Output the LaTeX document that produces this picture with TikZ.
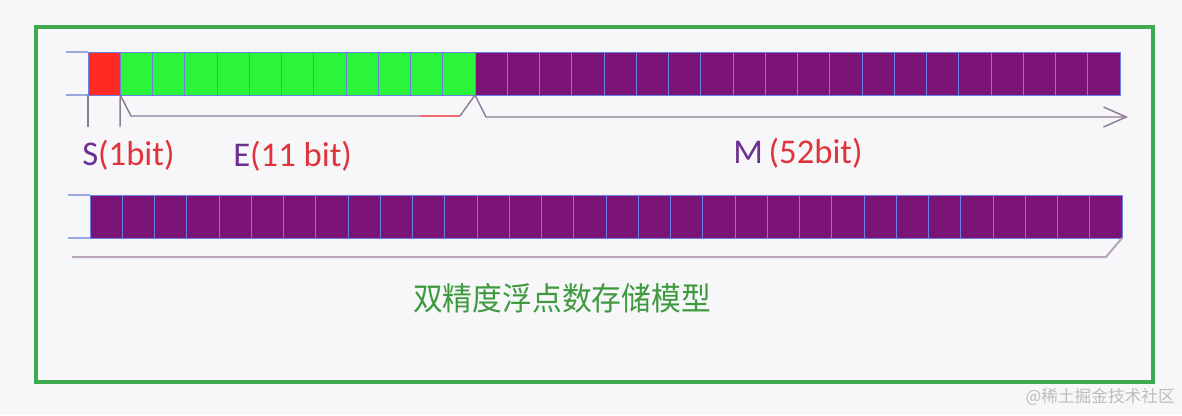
\documentclass[tikz,border=0pt]{standalone}
\usepackage{fontspec}
\setmainfont{Carlito}
\newfontfamily\cjk{Noto Sans CJK SC}
\usetikzlibrary{arrows.meta}
\definecolor{bgc}{HTML}{F7F7F9}
\definecolor{framegreen}{HTML}{3DAA50}
\definecolor{cellred}{HTML}{FF2A24}
\definecolor{cellgreen}{HTML}{2AF53A}
\definecolor{cellpurple}{HTML}{7C1478}
\definecolor{cellline}{HTML}{6A80E8}
\definecolor{rimline}{HTML}{9AA8E0}
\definecolor{bracegray}{HTML}{8C7C98}
\definecolor{bracered}{HTML}{F06A70}
\definecolor{bottombrace}{HTML}{B8A6B8}
\definecolor{labpurple}{HTML}{6B3090}
\definecolor{labred}{HTML}{E0343C}
\definecolor{titlegreen}{HTML}{3E9A3E}
\definecolor{wmgray}{HTML}{BDBDBD}
\tikzset{
  cell/.style={rectangle, draw=cellline, line width=0.7pt, inner sep=0pt, outer sep=0pt,
    minimum width=24.19pt, minimum height=32.25pt, anchor=north west},
  rim/.style={draw=rimline, line width=1pt},
  bracel/.style={draw=bracegray, line width=1.1pt},
  lab/.style={font=\fontsize{26}{28}\selectfont, inner sep=0pt, anchor=base west},
}
\begin{document}
\begin{tikzpicture}[x=0.75pt,y=-0.75pt]
\useasboundingbox (0,0) rectangle (1182,415);
\fill[bgc] (0,0) rectangle (1182,415);
\draw[framegreen, line width=3pt] (36,27) rectangle (1153,382);

% top register
\draw[rim] (66,52) -- (88,52) (66,95) -- (88,95);
\foreach \i in {1,...,32}{
  \ifnum\i=1 \def\cc{cellred}\else\ifnum\i<13 \def\cc{cellgreen}\else\def\cc{cellpurple}\fi\fi
  \node[cell, fill=\cc] (t\i) at ({88+(\i-1)*32.25},52) {};
}
% bottom register
\draw[rim] (68,195) -- (90,195) (68,238) -- (90,238);
\foreach \i in {1,...,32}{
  \node[cell, fill=cellpurple] (b\i) at ({90+(\i-1)*32.25},195) {};
}

% S ticks
\coordinate (s1) at (88,127);
\coordinate (s2) at (120,127);
\draw[bracel] (t1.south west) -- (s1);
\draw[bracel] (t1.south east) -- (s2);

% E brace
\coordinate (e1) at (131,116);
\coordinate (e2) at (420,116);
\coordinate (e3) at (460,116);
\draw[bracel] (t1.south east) -- (e1) -- (e2);
\draw[draw=bracered, line width=1.1pt] (e2) -- (e3);
\draw[bracel] (e3) -- (t12.south east);

% M arrow
\coordinate (m1) at (486,117);
\coordinate (m2) at (1128,117);
\draw[bracel, -{Straight Barb[length=17pt,width=15pt,line width=1.1pt]}] (t12.south east) -- (m1) -- (m2);

% bottom brace
\coordinate (d1) at (72,257);
\coordinate (d2) at (1106,257);
\draw[draw=bottombrace, line width=1.5pt] (d1) -- (d2) -- (b32.south east);

% labels
\node[lab] (ls) at (82,165) {\textcolor{labpurple}{S}\textcolor{labred}{(1bit)}};
\node[lab] (le) at (233,166) {\textcolor{labpurple}{E}\textcolor{labred}{(11 bit)}};
\node[lab] (lm) at (733,163) {\textcolor{labpurple}{M}\,\textcolor{labred}{(52bit)}};

% title
\node[font=\cjk\fontsize{24}{26}\selectfont, text=titlegreen, inner sep=0pt, xscale=0.93] (title) at (562,298) {双精度浮点数存储模型};

% watermark
\node[font=\cjk\fontsize{12.5}{14}\selectfont, text=wmgray, inner sep=0pt, anchor=east] (wm) at (1175,397) {@稀土掘金技术社区};
\end{tikzpicture}
\end{document}
